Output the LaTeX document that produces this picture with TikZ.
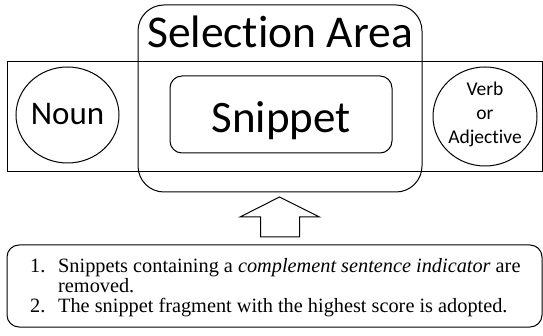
\documentclass[tikz,border=0pt]{standalone}
\usepackage{fontspec}
\setmainfont{Liberation Serif}
\newfontfamily\carlito[Ligatures=NoCommon]{Carlito}
\usetikzlibrary{shapes.geometric}
\tikzset{
  frame/.style={draw, line width=1pt, inner sep=0pt},
  wordcircle/.style={frame, ellipse},
  label/.style={inner sep=0pt, font=\carlito},
}
\begin{document}
\begin{tikzpicture}[x=1pt, y=-1pt]
  \useasboundingbox (0,0) rectangle (543,336);

  % sentence band with the two word circles
  \node[frame, rectangle, minimum width=535.5pt, minimum height=110pt] (band) at (274.75,117) {};
  \node[wordcircle, minimum width=103pt, minimum height=96pt] (noun) at (67.5,115) {};
  \node[label, font=\carlito\fontsize{33}{40}\selectfont] (nountext) at (67.5,114) {Noun};
  \node[wordcircle, minimum width=104pt, minimum height=99pt] (verb) at (485,116.5) {};
  \node[label, align=center, font=\carlito\fontsize{19.5}{24}\selectfont] (verbtext) at (485,114) {Verb\\or\\Adjective};

  % selection area and snippet
  \node[frame, rectangle, rounded corners=26pt, minimum width=284pt, minimum height=187pt] (sel) at (280,98.5) {};
  \node[label, anchor=base, font=\carlito\fontsize{45.5}{52}\selectfont] (seltext) at (280,48) {Selection Area};
  \node[frame, rectangle, rounded corners=12pt, minimum width=222pt, minimum height=77pt] (snip) at (281,114.5) {};
  \node[label, anchor=base, font=\carlito\fontsize{45}{52}\selectfont] (sniptext) at (281,133) {Snippet};

  % rule box
  \node[frame, rectangle, rounded corners=12pt, minimum width=535pt, minimum height=82pt] (rules) at (274.5,286) {};
  \node[label, anchor=base west, font=\fontsize{20.3}{19}\selectfont] (rulestext) at (30,273)
    {\begin{tabular}[t]{@{}p{28pt}@{}l@{}}
       1. & Snippets containing a \textit{complement sentence indicator} are\\
          & removed.\\
       2. & The snippet fragment with the highest score is adopted.
     \end{tabular}};

  % block arrow from the rule box up to the selection area
  \coordinate (tip) at (279.5,197);
  \draw[line width=1pt, line join=miter]
    (tip) -- ++(40,20) -- ++(-20,0) -- ++(0,20) -- ++(-39,0) -- ++(0,-20) -- ++(-20.5,0) -- cycle;
\end{tikzpicture}
\end{document}
